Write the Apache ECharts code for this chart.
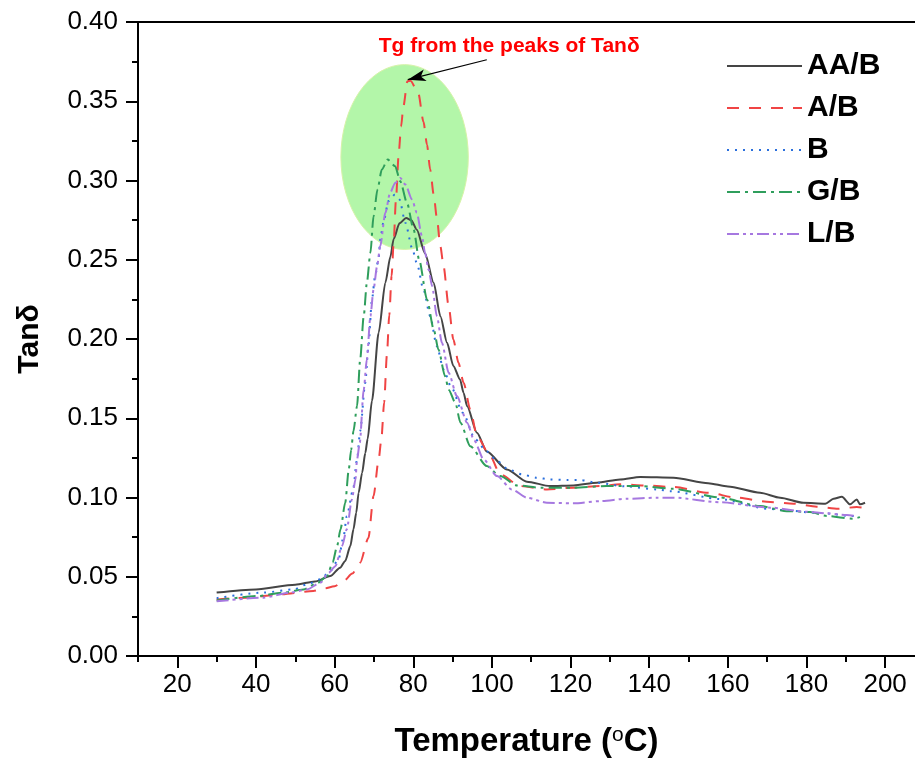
<!DOCTYPE html>
<html><head><meta charset="utf-8">
<script src="https://cdn.jsdelivr.net/npm/echarts@6/dist/echarts.min.js"></script>
<style>html,body{margin:0;padding:0;background:#fff}#c{width:915px;height:763px}</style>
</head><body><div id="c"></div>
<script>
// ---- data ----
const seriesNames = ['AA/B', 'A/B', 'B', 'G/B', 'L/B'];
const xTickLabels = [20, 40, 60, 80, 100, 120, 140, 160, 180, 200];
const xMinorTicks = [10, 30, 50, 70, 90, 110, 130, 150, 170, 190];

const aabT = [30, 40, 50, 55, 58.9, 61.4, 62.7, 64, 64.8, 65.5, 66.1, 67, 67.8, 68.4, 69.5, 71.2, 72.9, 74.2, 75, 76.5, 78.2, 79.5, 80.9, 83, 85.2, 86.9, 88.6, 90.2, 91.9, 92.8, 93.7, 96.2, 98.7, 103.8, 108.9, 114.8, 120.8, 126.7, 132.6, 137.7, 146.2, 155, 160, 168.2, 173.3, 179.2, 184.8, 186.9, 189, 191.1, 192.8, 193.6, 194.9];
const aabV = [0.040, 0.042, 0.045, 0.047, 0.0504, 0.0557, 0.060, 0.0694, 0.080, 0.0904, 0.103, 0.1156, 0.128, 0.137, 0.161, 0.204, 0.2355, 0.252, 0.263, 0.273, 0.2764, 0.275, 0.269, 0.254, 0.2354, 0.2144, 0.1976, 0.183, 0.1745, 0.166, 0.1576, 0.1409, 0.129, 0.1177, 0.110, 0.1072, 0.1076, 0.1093, 0.1114, 0.1129, 0.1125, 0.109, 0.107, 0.103, 0.0999, 0.0967, 0.0961, 0.0992, 0.1005, 0.0957, 0.0988, 0.0957, 0.0967];

const abT = [30, 37.7, 46.2, 54.6, 57.2, 60, 62.3, 64.5, 66.5, 68.6, 69.9, 71.2, 71.9, 72.6, 73.3, 73.9, 74.5, 75, 75.6, 76.3, 76.9, 77.5, 78.5, 79.3, 81.3, 82.6, 83.5, 84.3, 85.2, 86, 86.9, 87.7, 89, 90.2, 91.5, 92.8, 94.5, 96.2, 99.6, 102.1, 107.2, 114, 120.8, 127.5, 132.6, 139.4, 146.2, 155, 162, 170.8, 176.7, 182.6, 188.1, 192.8, 194.5];
const abV = [0.0357, 0.0368, 0.0389, 0.041, 0.0425, 0.044, 0.0473, 0.052, 0.0589, 0.0745, 0.1009, 0.124, 0.137, 0.160, 0.190, 0.215, 0.240, 0.260, 0.288, 0.317, 0.334, 0.3468, 0.3626, 0.363, 0.355, 0.337, 0.3226, 0.307, 0.291, 0.2764, 0.2585, 0.246, 0.2207, 0.1997, 0.185, 0.1724, 0.1556, 0.1387, 0.126, 0.1146, 0.1072, 0.1051, 0.1062, 0.1072, 0.1083, 0.1076, 0.1066, 0.103, 0.100, 0.0971, 0.0961, 0.0942, 0.0929, 0.094, 0.0935];

const bT = [30, 41.9, 49.6, 53, 56.4, 58.9, 61, 62.3, 63.1, 64.7, 65.7, 66.5, 67.8, 68.6, 69.5, 70.3, 71.2, 71.6, 72.4, 73.7, 75.3, 76.5, 78, 79.7, 80.9, 82.6, 84.3, 86, 87.7, 89.6, 92.6, 95.8, 98.7, 101.3, 104.2, 107.6, 111.4, 114.8, 119.1, 122.5, 126.7, 134, 142, 145.3, 158, 170.3, 174.2, 182.2, 186, 190, 193.5];
const bV = [0.0365, 0.040, 0.042, 0.0452, 0.0484, 0.0536, 0.061, 0.0757, 0.0883, 0.105, 0.124, 0.1419, 0.1724, 0.1955, 0.225, 0.2396, 0.2512, 0.2627, 0.2733, 0.287, 0.291, 0.288, 0.2733, 0.2575, 0.248, 0.2312, 0.2144, 0.1955, 0.1808, 0.170, 0.1535, 0.1366, 0.129, 0.123, 0.1177, 0.1146, 0.1125, 0.1114, 0.111, 0.111, 0.1093, 0.107, 0.1051, 0.104, 0.099, 0.0929, 0.092, 0.0904, 0.0898, 0.0885, 0.088];

const gbT = [30, 40.3, 47, 52.1, 55.5, 58.1, 59.5, 60.6, 61.5, 62.7, 63.6, 64.2, 64.8, 65.7, 66.5, 67.4, 68.2, 69.1, 69.9, 70.9, 72, 73.5, 75.4, 76.7, 78.4, 80.1, 81.5, 83.5, 85.2, 86.4, 88.1, 89, 90.7, 92, 94.5, 98.7, 102.1, 106.4, 112.3, 120.8, 129.2, 137.7, 146.2, 158, 168.2, 175, 180.9, 185.2, 191.9, 193.6];
const gbV = [0.035, 0.0378, 0.040, 0.042, 0.0458, 0.0504, 0.059, 0.069, 0.080, 0.0967, 0.1177, 0.130, 0.142, 0.1576, 0.187, 0.2144, 0.2354, 0.2543, 0.2774, 0.2943, 0.3069, 0.3132, 0.309, 0.2995, 0.2859, 0.269, 0.250, 0.225, 0.206, 0.1934, 0.1765, 0.168, 0.1598, 0.1472, 0.1324, 0.1198, 0.1135, 0.1076, 0.1062, 0.1062, 0.1072, 0.1072, 0.1055, 0.100, 0.0946, 0.0914, 0.0908, 0.0883, 0.0866, 0.0876];

const lbT = [30, 41.9, 48.7, 53, 56.4, 58.5, 60.2, 61.9, 63.1, 64.4, 65.3, 65.7, 66.4, 67.4, 68.2, 69.1, 69.9, 70.8, 71.6, 72.9, 74.1, 75.4, 76.7, 78, 79.7, 80.9, 82.2, 83, 83.9, 84.8, 86, 87.3, 89, 91.1, 93.7, 95.5, 97.9, 101.3, 105.1, 108.9, 114, 120.8, 127.5, 134.3, 142, 146.2, 158, 170.8, 180.1, 185.2, 190.3, 192.8];
const lbV = [0.0345, 0.0368, 0.040, 0.042, 0.0463, 0.0526, 0.0567, 0.0694, 0.080, 0.0988, 0.1114, 0.124, 0.1346, 0.168, 0.187, 0.2144, 0.2312, 0.246, 0.2585, 0.2796, 0.2922, 0.2985, 0.3016, 0.2974, 0.288, 0.2796, 0.265, 0.2543, 0.2438, 0.2333, 0.2144, 0.1976, 0.1787, 0.164, 0.1472, 0.136, 0.124, 0.1135, 0.1051, 0.0999, 0.0967, 0.0963, 0.0977, 0.0992, 0.0999, 0.0999, 0.097, 0.0936, 0.091, 0.090, 0.0889, 0.0883];

// ---- chart ----
const FONT = "'Liberation Sans', Arial, sans-serif";
const X_MIN = 10, X_MAX = 207.6;
const seriesT = [aabT, abT, bT, gbT, lbT];
const seriesV = [aabV, abV, bV, gbV, lbV];
const colors = ['#454545', '#f04444', '#2b6fdc', '#2f9e5c', '#a678e0'];
const dashes = ['solid', [12, 10], [2, 6], [13, 5, 3, 5], [12, 4, 3, 4, 3, 4]];

function pairs(t, v) { return t.map((x, i) => [x, v[i]]); }

const chart = echarts.init(document.getElementById('c'), null, { renderer: 'canvas' });

const series = seriesNames.map((name, i) => ({
  name: name,
  type: 'line',
  data: pairs(seriesT[i], seriesV[i]),
  symbol: 'none',
  smooth: 0.25,
  smoothMonotone: 'x',
  xAxisIndex: 0,
  yAxisIndex: 0,
  z: 3 + i,
  lineStyle: { color: colors[i], width: 2, type: dashes[i] },
  itemStyle: { color: colors[i] }
}));

// arrow to A/B peak
series[1].markLine = {
  silent: true,
  animation: false,
  label: { show: false },
  symbolSize: [9, 18],
  lineStyle: { color: '#000', width: 1.2, type: 'solid' },
  data: [[
    { coord: [98.7, 0.3762], symbol: 'none' },
    { coord: [78.6, 0.3636], symbol: 'arrow' }
  ]]
};

const axisBlack = { color: '#000', width: 2 };

chart.setOption({
  animation: false,
  backgroundColor: '#fff',
  grid: { left: 138, top: 22, right: 0, bottom: 106 },
  legend: {
    orient: 'vertical',
    left: 726, top: 51,
    itemWidth: 75, itemHeight: 14, itemGap: 12,
    padding: 0,
    itemStyle: { color: 'rgba(0,0,0,0)', opacity: 0, borderWidth: 0 },
    textStyle: { fontFamily: FONT, fontSize: 30, fontWeight: 'bold', color: '#000', lineHeight: 30 },
    data: seriesNames
  },
  xAxis: [{
    type: 'value', min: X_MIN, max: X_MAX, position: 'bottom',
    axisLine: { show: true, onZero: false, lineStyle: axisBlack },
    axisTick: { show: true, inside: false, length: 12, lineStyle: axisBlack, customValues: xTickLabels },
    axisLabel: { show: true, customValues: xTickLabels, margin: 16, fontFamily: FONT, fontSize: 26, color: '#000' },
    splitLine: { show: false },
    name: '{b|Temperature (}{s|o}{b|C)}',
    nameLocation: 'middle', nameGap: 69,
    nameTextStyle: {
      rich: {
        b: { fontFamily: FONT, fontSize: 33, fontWeight: 'bold', color: '#000' },
        s: { fontFamily: FONT, fontSize: 21, fontWeight: 'normal', color: '#000', verticalAlign: 'top', padding: [0, 0, 12, 0] }
      }
    }
  }, {
    type: 'value', min: X_MIN, max: X_MAX, position: 'bottom',
    axisLine: { show: false, onZero: false },
    axisTick: { show: true, inside: false, length: 6, lineStyle: axisBlack, customValues: xMinorTicks },
    axisLabel: { show: false },
    splitLine: { show: false }
  }, {
    type: 'value', min: X_MIN, max: X_MAX, position: 'top',
    axisLine: { show: true, onZero: false, lineStyle: axisBlack },
    axisTick: { show: false },
    axisLabel: { show: false },
    splitLine: { show: false }
  }],
  yAxis: [{
    type: 'value', min: 0, max: 0.4, interval: 0.05,
    axisLine: { show: true, onZero: false, lineStyle: axisBlack },
    axisTick: { show: true, inside: false, length: 12, lineStyle: axisBlack },
    minorTick: { show: true, splitNumber: 2, length: 6, lineStyle: axisBlack },
    axisLabel: { margin: 20, fontFamily: FONT, fontSize: 26, color: '#000', formatter: v => v.toFixed(2) },
    splitLine: { show: false },
    minorSplitLine: { show: false },
    name: 'Tanδ',
    nameLocation: 'middle', nameGap: 93,
    nameTextStyle: { fontFamily: FONT, fontSize: 30, fontWeight: 'bold', color: '#000' }
  }],
  series: series
});

// annotation ellipse + text, placed through the chart's own coordinate system
function px(pt) { return chart.convertToPixel({ gridIndex: 0 }, pt); }
const ellC = px([77.8, 0.3148]);
const ellX = px([77.8 + 16.2, 0.3148]);
const ellY = px([77.8, 0.3148 + 0.0583]);
const txt = px([104.4, 0.385]);
chart.setOption({
  graphic: [{
    type: 'ellipse', z: 0, silent: true,
    shape: { cx: ellC[0], cy: ellC[1], rx: ellX[0] - ellC[0], ry: ellC[1] - ellY[1] },
    style: { fill: '#b3f6a9', stroke: '#d6f3a8', lineWidth: 1 }
  }, {
    type: 'text', z: 10, silent: true,
    x: txt[0], y: txt[1],
    style: { text: 'Tg from the peaks of Tanδ', fill: '#ff0000', font: 'bold 21px ' + FONT, textAlign: 'center', textVerticalAlign: 'middle' }
  }]
});
</script>
</body></html>
